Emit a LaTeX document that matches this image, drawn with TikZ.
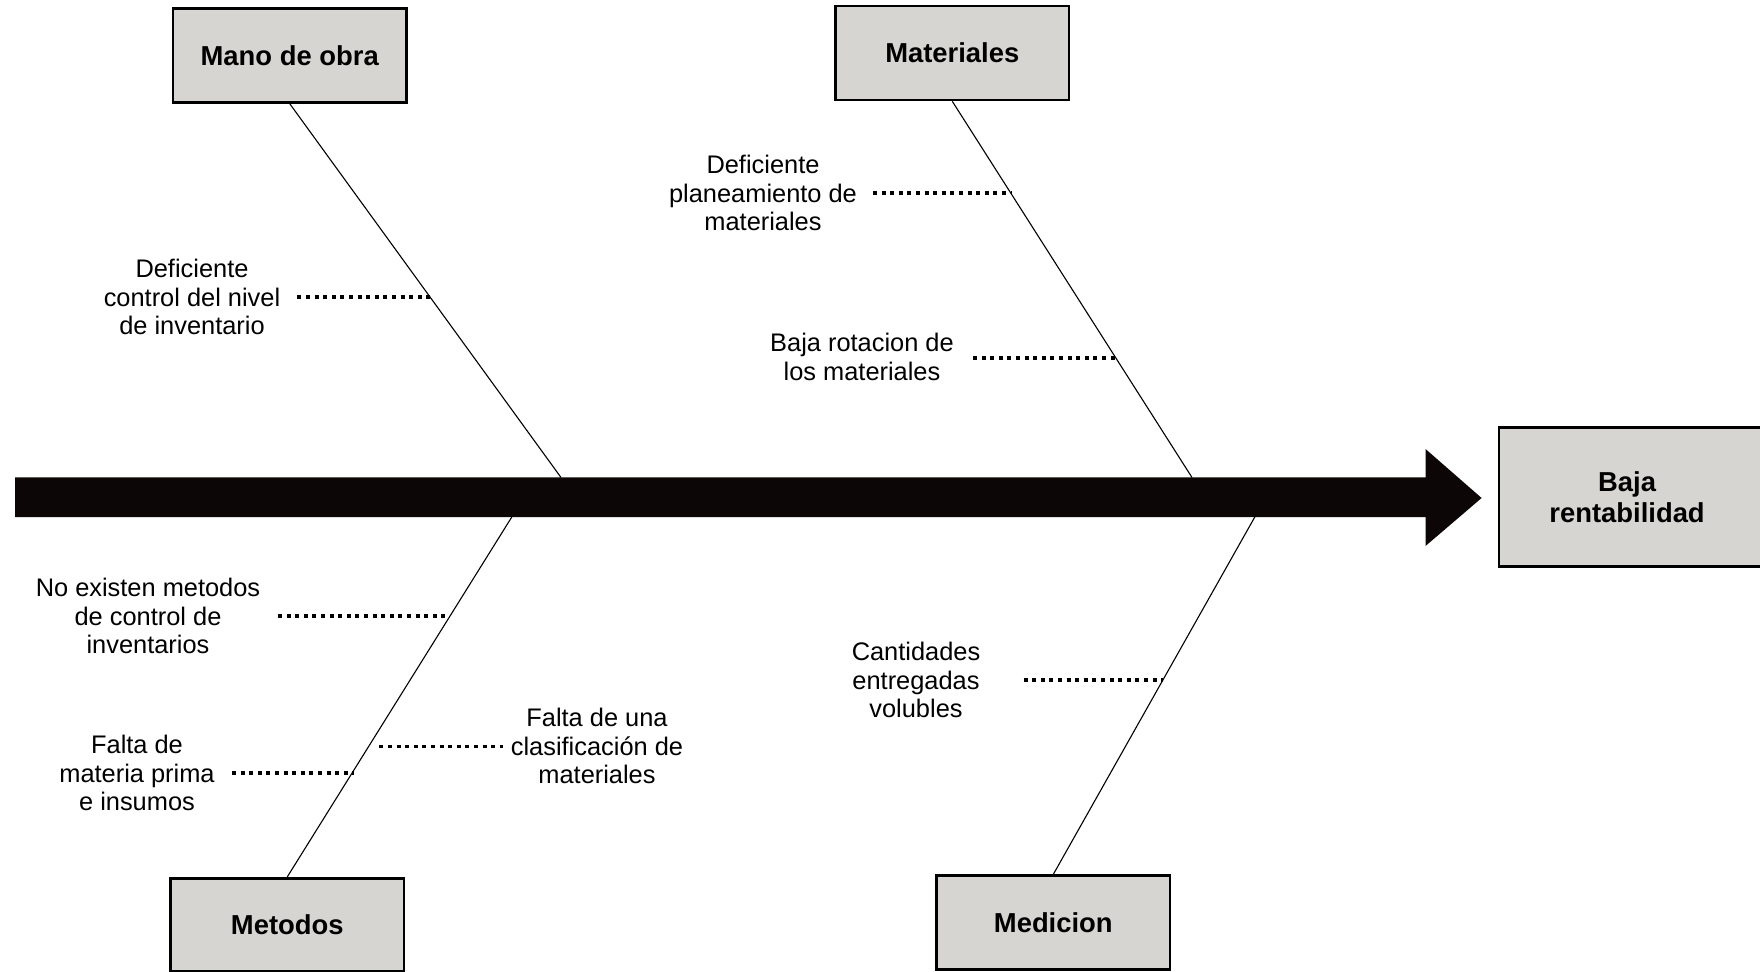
\documentclass[tikz,border=0pt]{standalone}
\usepackage{fontspec}
\setmainfont{Liberation Sans}
\definecolor{boxfill}{RGB}{214,213,209}
\definecolor{spine}{RGB}{12,6,6}
\tikzset{
  catbox/.style={draw=black, line width=1.35pt, fill=boxfill, inner sep=0pt,
     minimum width=116.7pt, minimum height=46.8pt,
     font=\bfseries\fontsize{13.7}{15.5}\selectfont, align=center},
  cause/.style={inner sep=0pt, align=center, font=\fontsize{12.7}{14.35}\selectfont},
  bone/.style={draw=black, line width=0.55pt},
  dotline/.style={draw=black, line width=1.85pt, dash pattern=on 2pt off 2.3pt},
}
\begin{document}
\begin{tikzpicture}[x=0.5pt, y=-0.5pt]
\useasboundingbox (0,0) rectangle (1760,972);
\begin{scope}
\clip (0,0) rectangle (1760,972);
% spine arrow
\fill[spine] (15,477.5) -- (1425.5,477.5) -- (1425.5,449) -- (1481.6,498) -- (1425.5,546) -- (1425.5,517) -- (15,517) -- cycle;
% category boxes
\node[catbox] (mano) at (289.7,55.5) {Mano de obra};
\node[catbox, minimum height=47pt] (mat) at (952.3,53) {Materiales};
\node[catbox] (met) at (287.3,925) {Metodos};
\node[catbox] (med) at (1053.3,922.5) {Medicion};
\node[catbox, minimum width=140pt, minimum height=69.7pt, anchor=west, text width=140pt] (baja) at (1497.7,497) {\hspace*{-12pt}Baja\\\hspace*{-12pt}rentabilidad};
% bone ends on the spine
\coordinate (manoEnd) at (561,477.5);
\coordinate (matEnd) at (1192,477.5);
\coordinate (metEnd) at (511.8,517);
\coordinate (medEnd) at (1254.8,517);
\draw[bone] (mano.south) -- (manoEnd);
\draw[bone] (mat.south) -- (matEnd);
\draw[bone] (metEnd) -- (met.north);
\draw[bone] (medEnd) -- (med.north);
\end{scope}
% causes
\node[cause] (c1) at (192,297) {Deficiente\\control del nivel\\de inventario};
\node[cause] (c2) at (763,193) {Deficiente\\planeamiento de\\materiales};
\node[cause] (c3) at (862,357) {Baja rotacion de\\los materiales};
\node[cause] (c4) at (148,616) {No existen metodos\\de control de\\inventarios};
\node[cause] (c5) at (137,773) {Falta de\\materia prima\\e insumos};
\node[cause] (c6) at (597,746) {Falta de una\\clasificación de\\materiales};
\node[cause] (c7) at (916,680) {Cantidades\\entregadas\\volubles};
% dotted connectors
\coordinate (d1a) at (297.4,297); \coordinate (d1b) at (430,297);
\coordinate (d2a) at (873,193);   \coordinate (d2b) at (1012,193);
\coordinate (d3a) at (973,358);   \coordinate (d3b) at (1116,358);
\coordinate (d4a) at (278,616);   \coordinate (d4b) at (448,616);
\coordinate (d5a) at (232,773);   \coordinate (d5b) at (354,773);
\coordinate (d6a) at (379.4,746.4); \coordinate (d6b) at (502.8,746.4);
\coordinate (d7a) at (1023.6,680); \coordinate (d7b) at (1162.8,680);
\draw[dotline] (d1a) -- (d1b);
\draw[dotline] (d2a) -- (d2b);
\draw[dotline] (d3a) -- (d3b);
\draw[dotline] (d4a) -- (d4b);
\draw[dotline] (d5a) -- (d5b);
\draw[dotline] (d6a) -- (d6b);
\draw[dotline] (d7a) -- (d7b);
\end{tikzpicture}
\end{document}
